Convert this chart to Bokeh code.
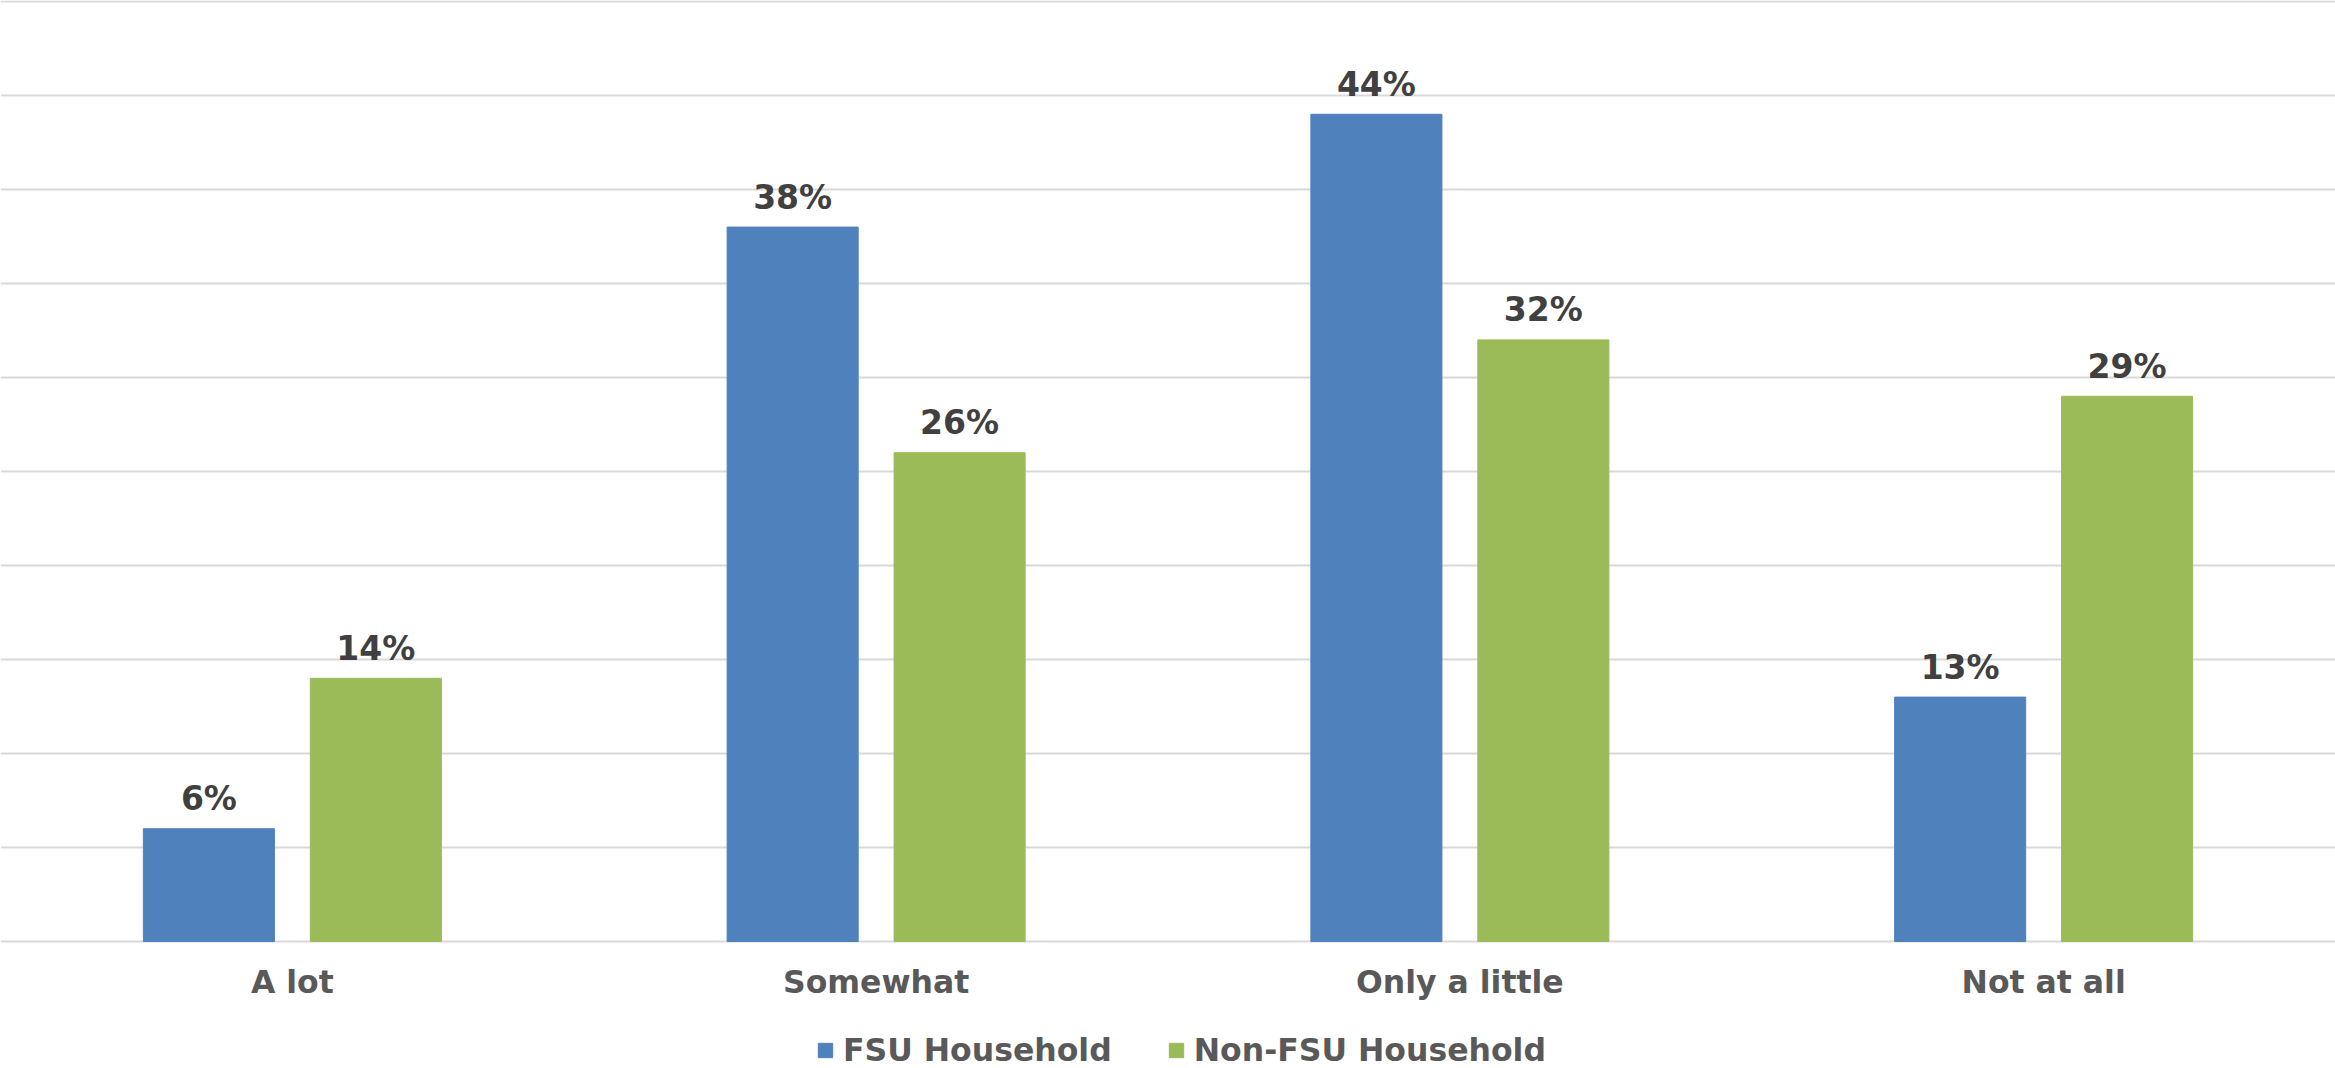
from bokeh.plotting import figure
from bokeh.models import (FactorRange, Range1d, ColumnDataSource, Legend,
                          LegendItem, FixedTicker)
from bokeh.transform import dodge
from bokeh.core.properties import value
from bokeh.embed import file_html
from bokeh.resources import INLINE

categories = ["A lot", "Somewhat", "Only a little", "Not at all"]
fsu_values = [6, 38, 44, 13]
non_fsu_values = [14, 26, 32, 29]
series_names = ["FSU Household", "Non-FSU Household"]
grid_ticks = [0, 5, 10, 15, 20, 25, 30, 35, 40, 45, 50]

FONT = "DejaVu Sans"
BLUE = "#4F81BD"
GREEN = "#9BBB59"

W, H = 2335, 1068
PX_PER_UNIT = 18.8          # vertical scale: 50 % spans 940 px
BASE_PX = 941               # page y of the 0 % line

src = ColumnDataSource(dict(
    cat=categories,
    zero=[0] * len(categories),
    fsu=fsu_values,
    non=non_fsu_values,
    fsu_lbl=[f"{v}%" for v in fsu_values],
    non_lbl=[f"{v}%" for v in non_fsu_values],
))

p = figure(x_range=FactorRange(*categories, range_padding=0),
           y_range=Range1d(-(H - BASE_PX) / PX_PER_UNIT, BASE_PX / PX_PER_UNIT),
           width=W, height=H,
           output_backend="svg", toolbar_location=None,
           min_border_left=0, min_border_right=0,
           min_border_top=0, min_border_bottom=0)
p.outline_line_color = None
p.background_fill_color = "white"
p.xaxis.visible = False
p.yaxis.visible = False
p.yaxis.ticker = FixedTicker(ticks=grid_ticks)
p.ygrid.grid_line_color = "#D9D9D9"
p.ygrid.grid_line_width = 2
p.xgrid.visible = False

off = 0.143
bw = 0.2245
r1 = p.vbar(x=dodge("cat", -off, range=p.x_range), top="fsu", width=bw,
            source=src, fill_color=BLUE, line_color=BLUE)
r2 = p.vbar(x=dodge("cat", off, range=p.x_range), top="non", width=bw,
            source=src, fill_color=GREEN, line_color=GREEN)

for xoff, col, lbl in [(-off, "fsu", "fsu_lbl"), (off, "non", "non_lbl")]:
    p.text(x=dodge("cat", xoff, range=p.x_range), y=col, text=lbl, source=src,
           text_align="center", text_baseline="alphabetic", y_offset=-30,
           text_font=value(FONT), text_font_style="bold",
           text_font_size="33px", text_color="#404040")

# category labels under the 0 % line
p.text(x="cat", y="zero", text="cat", source=src,
       text_align="center", text_baseline="alphabetic", y_offset=40,
       text_font=value(FONT), text_font_style="bold",
       text_font_size="31.5px", text_color="#595959")

legend = Legend(items=[LegendItem(label=series_names[0], renderers=[r1]),
                       LegendItem(label=series_names[1], renderers=[r2])],
                orientation="horizontal", location=(816, 0),
                glyph_width=18, glyph_height=18, label_standoff=9,
                spacing=55, padding=0, margin=0,
                label_text_font=FONT, label_text_font_style="bold",
                label_text_font_size="31.5px", label_text_color="#595959",
                border_line_alpha=0, background_fill_alpha=0)
p.add_layout(legend, "center")

open("out.html", "w").write(file_html(p, INLINE))
